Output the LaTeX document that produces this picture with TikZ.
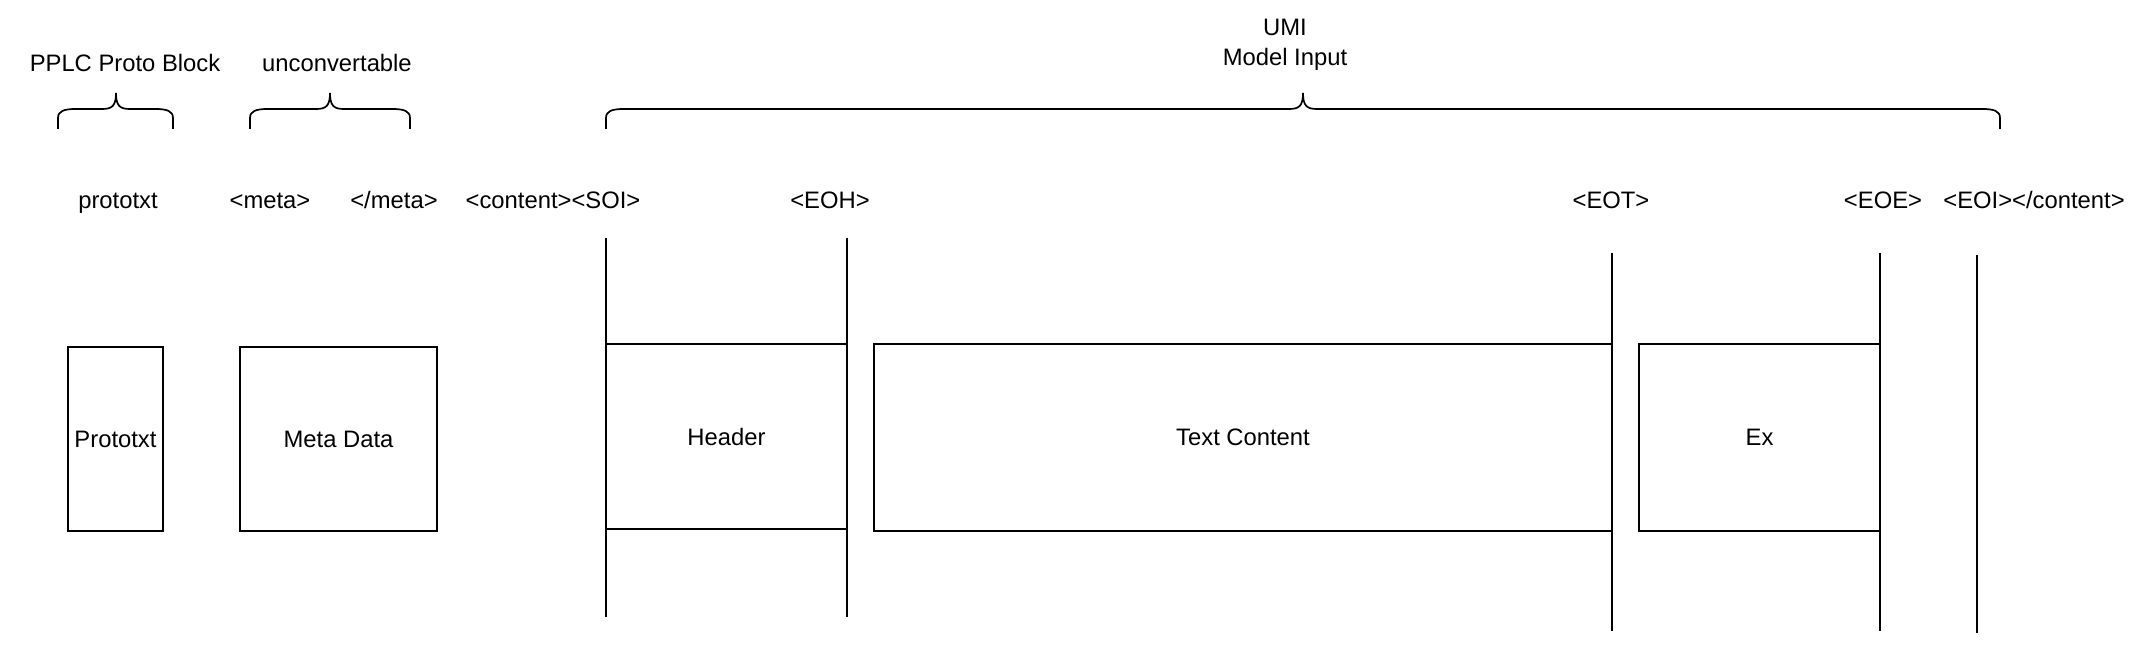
\documentclass[tikz,border=0pt]{standalone}
\usepackage{fontspec}
\setmainfont{Liberation Sans}

\begin{document}
\begin{tikzpicture}[x=1pt, y=-1pt, line width=1.7pt,
    every node/.style={font=\fontsize{23.8}{30}\selectfont},
    bloc/.style={draw, inner sep=0pt, outer sep=0pt}]
  \useasboundingbox (0,0) rectangle (2144,652);

  % Accolades
  \foreach \xa/\xm/\xb in {58/116/173, 250/330/410, 606/1303/2000} {
    \draw (\xa,129) -- (\xa,118)
      .. controls (\xa,111) and (\xa+6,109) .. (\xa+18,109)
      -- (\xm-14,109) .. controls (\xm-4,109) and (\xm,106) .. (\xm,93)
      .. controls (\xm,106) and (\xm+4,109) .. (\xm+14,109)
      -- (\xb-18,109) .. controls (\xb-6,109) and (\xb,111) .. (\xb,118)
      -- (\xb,129);
  }

  % Titres
  \node (pplc) at (125,63) {PPLC Proto Block};
  \node (unconv) at (337,63) {unconvertable};
  \node[align=center] (umi) at (1285,45) {UMI\\Model Input};

  % Balises
  \foreach \x/\nom/\balise in {118/prototxt/prototxt, 270/meta/{<meta>},
      394/finmeta/{</meta>}, 553/soi/{<content><SOI>}, 830/eoh/{<EOH>},
      1611/eot/{<EOT>}, 1883/eoe/{<EOE>}, 2034/eoi/{<EOI></content>}}
    \node[anchor=base] (t\nom) at (\x,209) {\balise};

  % Traits verticaux
  \foreach \x/\haut/\bas in {606/238/617, 847/238/617, 1612/253/631,
      1880/253/631, 1977/255/633}
    \draw[line width=1.5pt] (\x,\haut) -- (\x,\bas);

  % Blocs
  \node[bloc, minimum width=95pt, minimum height=184pt] (prototxt) at (115.5,439) {Prototxt};
  \node[bloc, minimum width=197pt, minimum height=184pt] (metadata) at (338.5,439) {Meta Data};
  \node[bloc, minimum width=241pt, minimum height=185pt] (header) at (726.5,436.5) {Header};
  \node[bloc, minimum width=738pt, minimum height=187pt] (textcontent) at (1243,437.5) {Text Content};
  \node[bloc, minimum width=241pt, minimum height=187pt] (ex) at (1759.5,437.5) {Ex};
\end{tikzpicture}
\end{document}
